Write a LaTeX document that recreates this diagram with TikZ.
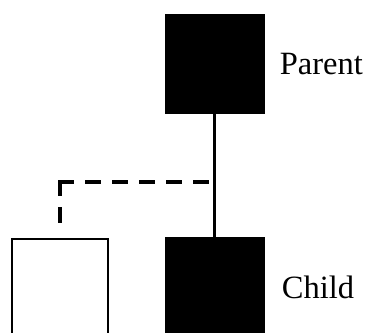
\documentclass[tikz,border=0pt]{standalone}
\usepackage{fontspec}
\setmainfont{Liberation Serif}
\usetikzlibrary{positioning}
\tikzset{
  member/.style={rectangle, minimum width=100pt, minimum height=100pt, inner sep=0pt},
  blood/.style={line width=3.7pt},
  kin/.style={line width=3.7pt, line cap=rect, dash pattern=on 12.3pt off 14.7pt},
  famlabel/.style={font=\fontsize{32.5}{38}\selectfont, inner sep=0pt},
}
\begin{document}
\begin{tikzpicture}[x=1pt,y=-1pt]
\useasboundingbox (0,0) rectangle (366,332);
\clip (0,0) rectangle (366,332);
% the two related boxes
\node[member, fill=black] (parent) at (214.5,64) {};
\node[member, fill=black] (child) at (214.5,287) {};
\node[member, draw, line width=2.5pt, minimum width=96pt, minimum height=96pt] (other) at (60,287) {};
% labels
\node[famlabel, right=15pt of parent] (plabel) {Parent};
\node[famlabel, right=17pt of child] (clabel) {Child};
% links
\draw[blood] (parent) -- (child);
\coordinate (junc) at (214.5,182);
\coordinate (corner) at (60,182);
\draw[kin] (corner) -- (junc);
\draw[kin] (corner) -- ([yshift=14.5pt]other.north);
\end{tikzpicture}
\end{document}
